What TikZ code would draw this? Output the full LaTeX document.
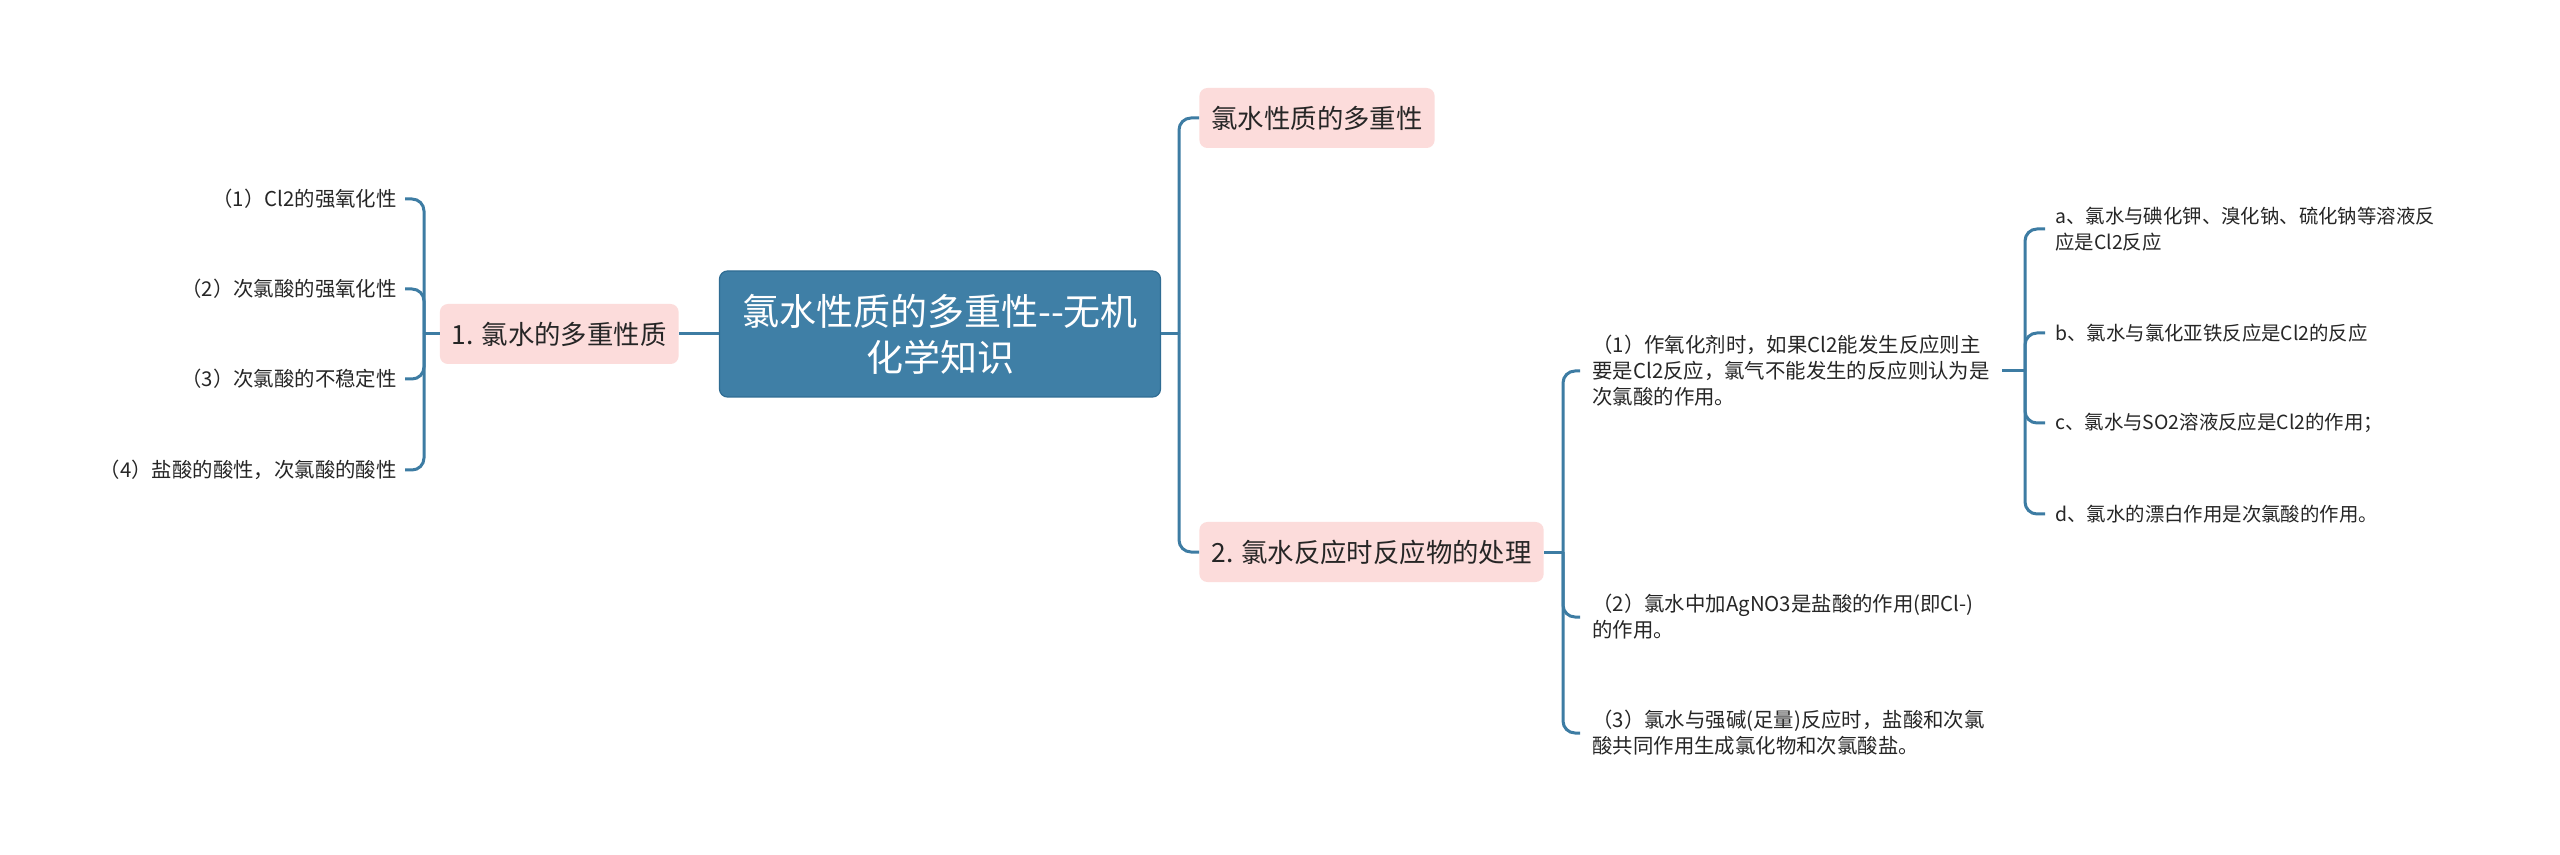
\documentclass[tikz,border=0pt]{standalone}
\usepackage{fontspec}
\setmainfont{Noto Sans CJK SC}
\definecolor{linecol}{HTML}{3D7CA3}
\definecolor{rootcol}{HTML}{3F7FA6}
\definecolor{rootline}{HTML}{2F6C93}
\definecolor{pinkcol}{HTML}{FCDCDB}
\definecolor{textcol}{HTML}{262626}

\begin{document}
\begin{tikzpicture}[
		x=0.5pt, y=-0.5pt,
		every node/.style={text=textcol},
		rootbox/.style={rectangle, rounded corners=4pt, fill=rootcol, draw=rootline, line width=0.6pt, text=white, font=\fontsize{18.5}{23}\selectfont, align=center, minimum width=220.5pt, minimum height=63pt},
		branchbox/.style={rectangle, rounded corners=4pt, fill=pinkcol, font=\fontsize{13.2}{17}\selectfont, inner xsep=6pt, minimum height=30pt},
		leaf/.style={font=\fontsize{10.2}{13}\selectfont, align=left, inner ysep=2pt},
		subleaf/.style={leaf, font=\fontsize{9.7}{13}\selectfont},
		link/.style={draw=linecol, line width=1.5pt, rounded corners=6pt}
		]
		\fill[white] (0,0) rectangle (2560,855);
		\useasboundingbox (0,0) rectangle (2560,855);

		\node[rootbox] (root) at (940,334) {氯水性质的多重性-{}-无机\\化学知识};

		\node[branchbox, anchor=east] (left) at (679,334) {1. 氯水的多重性质};
		\node[leaf, anchor=east, inner xsep=4pt] (p1) at (405,199) {（1）Cl2的强氧化性};
		\node[leaf, anchor=east, inner xsep=4pt] (p2) at (405,289) {（2）次氯酸的强氧化性};
		\node[leaf, anchor=east, inner xsep=4pt] (p3) at (405,379) {（3）次氯酸的不稳定性};
		\node[leaf, anchor=east, inner xsep=4pt] (p4) at (405,470) {（4）盐酸的酸性，次氯酸的酸性};

		\node[branchbox, anchor=west] (top) at (1199,118) {氯水性质的多重性};
		\node[branchbox, anchor=west] (react) at (1199,552) {2. 氯水反应时反应物的处理};

		\node[leaf, anchor=west, inner xsep=6pt] (c1) at (1580,371) {（1）作氧化剂时，如果Cl2能发生反应则主\\要是Cl2反应，氯气不能发生的反应则认为是\\次氯酸的作用。};
		\node[leaf, anchor=west, inner xsep=6pt] (c2) at (1580,617) {（2）氯水中加AgNO3是盐酸的作用(即Cl-)\\的作用。};
		\node[leaf, anchor=west, inner xsep=6pt] (c3) at (1580,733) {（3）氯水与强碱(足量)反应时，盐酸和次氯\\酸共同作用生成氯化物和次氯酸盐。};

		\node[subleaf, anchor=west, inner xsep=5pt] (sa) at (2045,229) {a、氯水与碘化钾、溴化钠、硫化钠等溶液反\\应是Cl2反应};
		\node[subleaf, anchor=west, inner xsep=5pt] (sb) at (2045,333) {b、氯水与氯化亚铁反应是Cl2的反应};
		\node[subleaf, anchor=west, inner xsep=5pt] (sc) at (2045,423) {c、氯水与SO2溶液反应是Cl2的作用；};
		\node[subleaf, anchor=west, inner xsep=5pt] (sd) at (2045,514) {d、氯水的漂白作用是次氯酸的作用。};

		\coordinate (lj) at (424,334);
		\coordinate (rj) at (1179,334);
		\coordinate (cj) at (1563,552);
		\coordinate (sj) at (2025,371);

		\draw[link] (root.west) -- (left.east);
		\draw[link] (left.west) -- (lj);
		\foreach \n in {p1,p2,p3,p4}
			\draw[link] (lj) |- (\n.east);

		\draw[link] (root.east) -- (rj);
		\foreach \n in {top,react}
			\draw[link] (rj) |- (\n.west);

		\draw[link] (react.east) -- (cj);
		\foreach \n in {c1,c2,c3}
			\draw[link] (cj) |- (\n.west);

		\draw[link] (c1.east) -- (sj);
		\foreach \n in {sa,sb,sc,sd}
			\draw[link] (sj) |- (\n.west);
	\end{tikzpicture}
\end{document}
